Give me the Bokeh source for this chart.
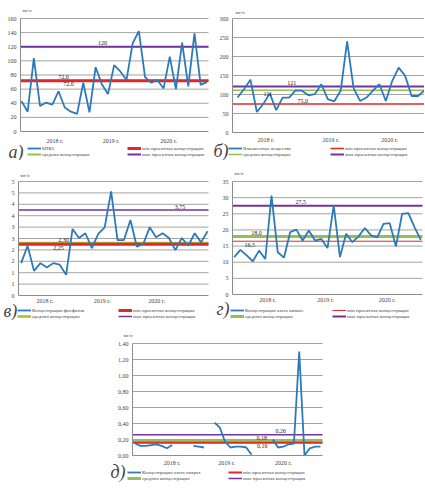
import numpy as np
from bokeh.plotting import figure
from bokeh.models import Legend, LegendItem, Label, FixedTicker, Range1d, Spacer
from bokeh.layouts import column, row
from bokeh.embed import file_html
from bokeh.resources import INLINE
from bokeh.core.properties import value

# ---------------- data ----------------
year_labels = ["2018 г.", "2019 г.", "2020 г."]
min_name = "min проектная концентрация"
avg_name = "средняя концентрация"
max_name = "max проектная концентрация"

# а) БПК5
bod_name = "БПК5"
bod_values = [43, 28, 104, 36, 41, 38, 57, 34, 28, 25, 69, 27, 91, 67, 53, 94, 85, 73,
              125, 142, 77, 69, 73, 61, 106, 60, 126, 64, 139, 66, 70]
bod_min, bod_avg, bod_max = 72.0, 72.0, 120.0
bod_ref_texts = ["72,0", "72,0", "120"]
bod_yticks = [0, 20, 40, 60, 80, 100, 120, 140, 160]
bod_ylabels = ["0", "20", "40", "60", "80", "100", "120", "140", "160"]

# б) Взвешенные вещества
tss_name = "Взвешенные вещества"
tss_values = [92, 114, 139, 54, 75, 103, 59, 92, 92, 111, 110, 98, 101, 127, 88, 82, 110,
              240, 117, 83, 92, 110, 127, 83, 136, 171, 149, 96, 96, 111]
tss_min, tss_avg, tss_max = 75.0, 111.0, 121.0
tss_ref_texts = ["75,0", "111", "121"]
tss_yticks = [0, 50, 100, 150, 200, 250, 300]
tss_ylabels = ["0", "50", "100", "150", "200", "250", "300"]

# в) Концентрация фосфатов
pho_name = "Концентрация фосфатов"
pho_values = [1.42, 2.18, 1.08, 1.42, 1.23, 1.42, 1.35, 0.91, 2.92, 2.52, 2.73, 2.08, 2.70,
              2.99, 4.57, 2.43, 2.43, 3.31, 2.14, 2.26, 2.99, 2.55, 2.73, 2.52, 1.99, 2.52,
              2.18, 2.73, 2.33, 2.82]
pho_min, pho_avg, pho_max = 2.25, 2.30, 3.75
pho_ref_texts = ["2,25", "2,30", "3,75"]
pho_yticks = [0, 0.5, 1, 1.5, 2, 2.5, 3, 3.5, 4, 4.5, 5]
pho_ylabels = ["0", "1", "1", "2", "2", "3", "3", "4", "4", "5", "5"]

# г) Концентрация азота аммон.
amm_name = "Концентрация азота аммон."
amm_values = [11.6, 13.8, 12.1, 10.3, 13.6, 11.0, 30.6, 13.1, 11.4, 19.3, 20.1, 16.7, 19.8,
              16.7, 17.2, 14.4, 27.6, 11.6, 18.8, 16.2, 18.0, 20.6, 18.3, 17.7, 21.9, 22.1,
              14.9, 25.0, 25.2, 20.8, 16.9]
amm_min, amm_avg, amm_max = 16.5, 18.0, 27.5
amm_ref_texts = ["16,5", "18,0", "27,5"]
amm_yticks = [0, 5, 10, 15, 20, 25, 30, 35]
amm_ylabels = ["0", "5", "10", "15", "20", "25", "30", "35"]

# д) Концентрация азота нитрат. (None = no data)
nit_name = "Концентрация азота нитрат."
nit_values = [0.15, 0.12, 0.12, 0.13, 0.14, 0.12, 0.09, 0.13, None, None, None, 0.12, 0.11,
              0.10, None, 0.41, 0.35, 0.17, 0.10, 0.11, 0.11, 0.10, 0.01, None, None, None,
              0.20, 0.10, 0.11, 0.14, 0.15, 1.30, 0.00, 0.09, 0.11, 0.11]
nit_min, nit_avg, nit_max = 0.16, 0.18, 0.26
nit_ref_texts = ["0,16", "0,18", "0,26"]
nit_yticks = [0, 0.2, 0.4, 0.6, 0.8, 1.0, 1.2, 1.4]
nit_ylabels = ["0,00", "0,20", "0,40", "0,60", "0,80", "1,00", "1,20", "1,40"]

# ---------------- style ----------------
FONT = "Liberation Serif"
BLUE = "#2c7bb8"
RED = "#e2262a"
GREEN = "#93c054"
PURPLE = "#7232a0"
GRID = "#8c8c8c"


def make_panel(values, name, yticks, ylabels, refs, ref_texts, ref_pos, widths,
               geom, xr, years_x, letter, green=GREEN):
    W, H = geom["size"]
    l, t, r, b = geom["box"]          # plot area inside the figure (px from top-left)
    ymin, ymax = yticks[0], yticks[-1]
    ux = (xr[1] - xr[0]) / (r - l)
    uy = (ymax - ymin) / (b - t)
    x_range = Range1d(xr[0] - l * ux, xr[1] + (W - r) * ux)
    y_range = Range1d(ymin - (H - b) * uy, ymax + t * uy)

    p = figure(width=W, height=H, output_backend="svg", toolbar_location=None,
               x_range=x_range, y_range=y_range,
               min_border_left=0, min_border_right=0, min_border_top=0,
               min_border_bottom=0)
    p.outline_line_color = None
    p.background_fill_color = "white"
    p.border_fill_color = "white"
    p.xgrid.visible = False
    p.ygrid.visible = False

    # horizontal gridlines over the plot area only
    gy = [v for v in yticks if v > ymin]
    p.segment(x0=[xr[0]] * len(gy), x1=[xr[1]] * len(gy), y0=gy, y1=gy,
              line_color=GRID, line_width=0.8)

    for ax in (p.yaxis[0], p.xaxis[0]):
        ax.axis_line_color = GRID
        ax.major_tick_line_color = None
        ax.minor_tick_line_color = None
        ax.major_tick_out = 0
        ax.major_tick_in = 0
        ax.minor_tick_out = 0
        ax.minor_tick_in = 0
        ax.major_label_text_font = FONT
        ax.major_label_text_font_size = "6px"

    ya = p.yaxis[0]
    ya.fixed_location = xr[0]
    ya.bounds = (ymin, ymax)
    ya.ticker = FixedTicker(ticks=yticks)
    ya.major_label_overrides = {tk: lb for tk, lb in zip(yticks, ylabels)}
    ya.major_label_standoff = 4

    xa = p.xaxis[0]
    xa.fixed_location = ymin
    xa.bounds = (xr[0], xr[1])
    xa.ticker = FixedTicker(ticks=years_x)
    xa.major_label_overrides = {tk: lb for tk, lb in zip(years_x, year_labels)}
    xa.major_label_standoff = geom["year_standoff"]

    x = np.arange(len(values))
    y = np.array([np.nan if v is None else v for v in values], dtype=float)
    xs = [xr[0], xr[1]]
    vmin, vavg, vmax = refs
    wmin, wavg, wmax = widths
    r_max = p.line(xs, [vmax, vmax], line_color=PURPLE, line_width=wmax)
    r_avg = p.line(xs, [vavg, vavg], line_color=green, line_width=wavg)
    r_min = p.line(xs, [vmin, vmin], line_color=RED, line_width=wmin)
    r_ser = p.line(x, y, line_color=BLUE, line_width=1.8)

    # value labels of the reference lines
    for (px, base), txt, val in zip(ref_pos, ref_texts, refs):
        p.text(x=[px], y=[val], text=[txt], text_font=value(FONT), text_font_size="6px",
               text_color="#222222", text_align="center", text_baseline=base,
               y_offset=(-1.5 if base == "bottom" else 1.5))

    # units label
    ux_, uy_ = geom["unit"]
    p.add_layout(Label(x=ux_, y=H - uy_, x_units="screen", y_units="screen",
                       text="мг/л", text_font=FONT, text_font_size="5px",
                       text_baseline="middle"))
    # panel letter
    lx, ly = geom["letter"]
    p.add_layout(Label(x=lx, y=H - ly, x_units="screen", y_units="screen",
                       text=letter, text_font=FONT, text_font_size="18px",
                       text_font_style="italic", text_baseline="alphabetic"))

    items = [LegendItem(label=name, renderers=[r_ser]),
             LegendItem(label=min_name, renderers=[r_min]),
             LegendItem(label=avg_name, renderers=[r_avg]),
             LegendItem(label=max_name, renderers=[r_max])]
    gap = geom["col_gap"]
    lgx, lgb = geom["legend"]
    legend = Legend(items=items, orientation="horizontal", ncols=2,
                    location=(lgx, H - lgb), label_text_font=FONT,
                    label_text_font_size="5px", glyph_width=14, glyph_height=6,
                    label_height=6, label_width=gap - 15, label_standoff=1,
                    spacing=0, padding=0, margin=0, border_line_color=None,
                    background_fill_alpha=0)
    p.add_layout(legend)
    return p


pA = make_panel(bod_values, bod_name, bod_yticks, bod_ylabels,
                (bod_min, bod_avg, bod_max), bod_ref_texts,
                [(7.6, "top"), (6.8, "bottom"), (13.1, "bottom")], (3, 2, 2),
                dict(size=(212, 160), box=(20, 18, 208, 131), year_standoff=6,
                     unit=(22, 10), letter=(8, 151), legend=(27, 157), col_gap=100),
                (-0.16, 30.27), [5.4, 14.5, 23.8], "а)")

pB = make_panel(tss_values, tss_name, tss_yticks, tss_ylabels,
                (tss_min, tss_avg, tss_max), tss_ref_texts,
                [(10.1, "bottom"), (4.7, "top"), (8.4, "bottom")], (1.5, 1.5, 2),
                dict(size=(212, 160), box=(20, 18, 212, 132), year_standoff=4,
                     unit=(23, 12), letter=(1, 150), legend=(16, 157), col_gap=102),
                (-0.78, 29.0), [4.4, 14.5, 23.6], "б)")

pC = make_panel(pho_values, pho_name, pho_yticks, pho_ylabels,
                (pho_min, pho_avg, pho_max), pho_ref_texts,
                [(5.8, "top"), (6.6, "bottom"), (24.7, "bottom")], (3, 2.5, 1.5),
                dict(size=(212, 160), box=(18, 21, 208, 135), year_standoff=2,
                     unit=(20, 15), letter=(3, 150), legend=(17, 159), col_gap=101),
                (-0.41, 29.15), [3.7, 12.6, 21.1], "в)", green="#a9bd3c")

pD = make_panel(amm_values, amm_name, amm_yticks, amm_ylabels,
                (amm_min, amm_avg, amm_max), amm_ref_texts,
                [(2.5, "top"), (3.6, "bottom"), (10.7, "bottom")], (1, 3, 2),
                dict(size=(212, 160), box=(20, 21, 210, 134), year_standoff=2,
                     unit=(22, 13), letter=(4, 148), legend=(18, 159), col_gap=102),
                (-0.27, 30.27), [5.36, 14.7, 24.6], "г)")

pE = make_panel(nit_values, nit_name, nit_yticks, nit_ylabels,
                (nit_min, nit_avg, nit_max), nit_ref_texts,
                [(24.0, "top"), (23.9, "bottom"), (27.5, "bottom")], (2, 3, 1.5),
                dict(size=(230, 167), box=(32, 23, 222, 135), year_standoff=4,
                     unit=(23, 15), letter=(10, 151), legend=(27, 161), col_gap=101),
                (-0.5, 35.4), [7.0, 17.3, 28.0], "д)")

layout = column(row(pA, pB), row(pC, pD), row(Spacer(width=100, height=167), pE))

with open("out.html", "w") as f:
    f.write(file_html(layout, INLINE))
